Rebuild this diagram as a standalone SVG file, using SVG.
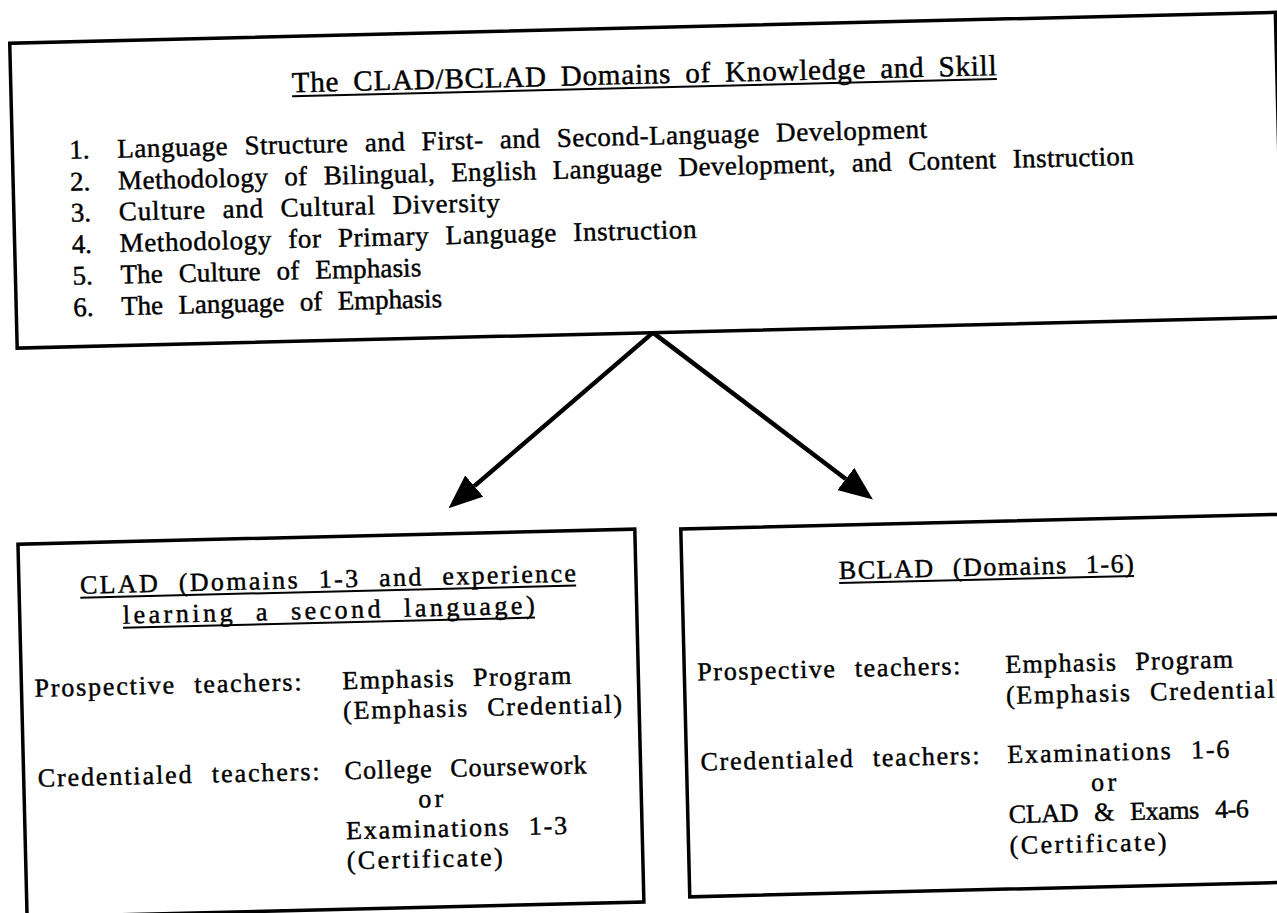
<svg xmlns="http://www.w3.org/2000/svg" width="1277" height="913" viewBox="0 0 1277 913">
<style>
.box{fill:none;stroke:#000;stroke-width:3.5}
.t{font-family:"Liberation Serif","Times New Roman",serif;fill:#000;stroke:#000;stroke-width:0.45}
.h1{font-size:29px;word-spacing:6px}
.it{font-size:27px;word-spacing:9px}
.sm{font-size:26px;word-spacing:10px}
.ul{stroke:#000;stroke-width:2}
.conn{fill:none;stroke:#000;stroke-width:4.5}
</style>
<defs>
<marker id="ah" viewBox="0 -14 34 28" refX="0" refY="0" markerWidth="34" markerHeight="28" markerUnits="userSpaceOnUse" orient="auto">
<path d="M0,-14 L34,0 L0,14 z" fill="#000"/>
</marker>
</defs>
<rect x="0" y="0" width="1277" height="913" fill="#fff"/>
<g transform="rotate(-1.4 638 456)">
<g id="domains">
<rect class="box" x="20" y="28" width="1266" height="305"/>
<text class="t h1" x="301" y="84" textLength="705" lengthAdjust="spacing">The CLAD/BCLAD Domains of Knowledge and Skill</text>
<line class="ul" x1="301" y1="88" x2="1006" y2="88"/>
<text class="t it" x="77" y="145">1.</text>
<text class="t it" x="125" y="145" textLength="810" lengthAdjust="spacing">Language Structure and First- and Second-Language Development</text>
<text class="t it" x="77" y="177">2.</text>
<text class="t it" x="125" y="177" textLength="1016" lengthAdjust="spacing">Methodology of Bilingual, English Language Development, and Content Instruction</text>
<text class="t it" x="77" y="208">3.</text>
<text class="t it" x="125" y="208" textLength="381" lengthAdjust="spacing">Culture and Cultural Diversity</text>
<text class="t it" x="77" y="239.5">4.</text>
<text class="t it" x="125" y="239.5" textLength="577" lengthAdjust="spacing">Methodology for Primary Language Instruction</text>
<text class="t it" x="77" y="271">5.</text>
<text class="t it" x="125" y="271" textLength="301" lengthAdjust="spacing">The Culture of Emphasis</text>
<text class="t it" x="77" y="302.5">6.</text>
<text class="t it" x="125" y="302.5" textLength="321" lengthAdjust="spacing">The Language of Emphasis</text>
</g>
<g id="connectors">
<path class="conn" d="M656,333 L473.6,482.1" marker-end="url(#ah)"/>
<path class="conn" d="M656,333 L845.2,484.1" marker-end="url(#ah)"/>
</g>
<g id="clad">
<rect class="box" x="16" y="529" width="617" height="373"/>
<text class="t sm" x="77" y="580" textLength="496" lengthAdjust="spacing">CLAD (Domains 1-3 and experience</text>
<line class="ul" x1="77" y1="584" x2="573" y2="584"/>
<text class="t sm" x="119" y="611" textLength="412" lengthAdjust="spacing">learning a second language)</text>
<line class="ul" x1="119" y1="615" x2="531" y2="615"/>
<text class="t sm" x="29" y="682" textLength="267" lengthAdjust="spacing">Prospective teachers:</text>
<text class="t sm" x="30" y="772" textLength="282" lengthAdjust="spacing">Credentialed teachers:</text>
<text class="t sm" x="337" y="682" textLength="229" lengthAdjust="spacing">Emphasis Program</text>
<text class="t sm" x="337" y="712" textLength="279" lengthAdjust="spacing">(Emphasis Credential)</text>
<text class="t sm" x="337" y="772" textLength="242" lengthAdjust="spacing">College Coursework</text>
<text class="t sm" x="410" y="802" textLength="25" lengthAdjust="spacing">or</text>
<text class="t sm" x="337" y="832" textLength="221" lengthAdjust="spacing">Examinations 1-3</text>
<text class="t sm" x="337" y="862" textLength="156" lengthAdjust="spacing">(Certificate)</text>
</g>
<g id="bclad">
<rect class="box" x="679" y="530" width="611" height="368"/>
<text class="t sm" x="836" y="584" textLength="295" lengthAdjust="spacing">BCLAD (Domains 1-6)</text>
<line class="ul" x1="836" y1="588" x2="1131" y2="588"/>
<text class="t sm" x="692" y="682" textLength="263" lengthAdjust="spacing">Prospective teachers:</text>
<text class="t sm" x="693" y="772" textLength="279" lengthAdjust="spacing">Credentialed teachers:</text>
<text class="t sm" x="1000" y="682" textLength="228" lengthAdjust="spacing">Emphasis Program</text>
<text class="t sm" x="1000" y="713" textLength="279" lengthAdjust="spacing">(Emphasis Credential)</text>
<text class="t sm" x="1000" y="772" textLength="222" lengthAdjust="spacing">Examinations 1-6</text>
<text class="t sm" x="1083" y="802" textLength="25" lengthAdjust="spacing">or</text>
<text class="t sm" x="1000" y="832" textLength="240" lengthAdjust="spacing">CLAD &amp; Exams 4-6</text>
<text class="t sm" x="1000" y="863" textLength="157" lengthAdjust="spacing">(Certificate)</text>
</g>
</g>
</svg>
